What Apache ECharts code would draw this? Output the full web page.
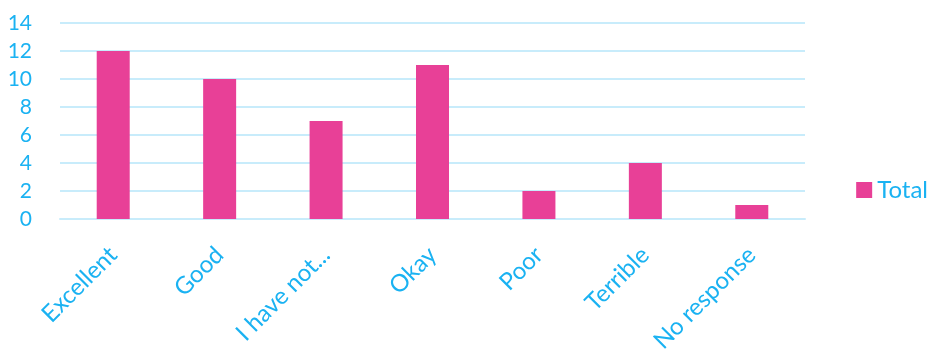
<!DOCTYPE html>
<html><head><meta charset="utf-8">
<script src="https://cdn.jsdelivr.net/npm/echarts@6/dist/echarts.min.js"></script>
<style>html,body{margin:0;padding:0;background:#fff}#c{width:933px;height:364px}</style>
</head><body><div id="c"></div>
<script>
const categories = ["Excellent","Good","I have not...","Okay","Poor","Terrible","No response"];
const totalValues = [12,10,7,11,2,4,1];
const seriesName = "Total";
const chart = echarts.init(document.getElementById('c'));
const txt = '#1AB2F2';
const gridCol = '#C8ECFB';
chart.setOption({
  animation:false,
  grid:{left:60,right:128,top:23,bottom:145},
  legend:{right:0,top:173,orient:'vertical',itemWidth:16,itemHeight:16,itemGap:8,icon:'rect',
    textStyle:{color:txt,fontSize:24,fontFamily:'Lato, sans-serif'},data:[seriesName]},
  xAxis:{type:'category',data:categories,
    axisLine:{lineStyle:{color:gridCol,width:2}},axisTick:{show:false},
    axisLabel:{rotate:45,color:txt,fontSize:24,margin:32,interval:0,fontFamily:'Lato, sans-serif'}},
  yAxis:{type:'value',min:0,max:14,interval:2,
    axisLine:{show:false},axisTick:{show:false},
    splitLine:{lineStyle:{color:gridCol,width:2}},
    axisLabel:{color:txt,fontSize:21,margin:28,fontFamily:'Lato, sans-serif'}},
  series:[{name:seriesName,type:'bar',data:totalValues,barWidth:33,
    itemStyle:{color:'#E84097'}}]
});
</script></body></html>
